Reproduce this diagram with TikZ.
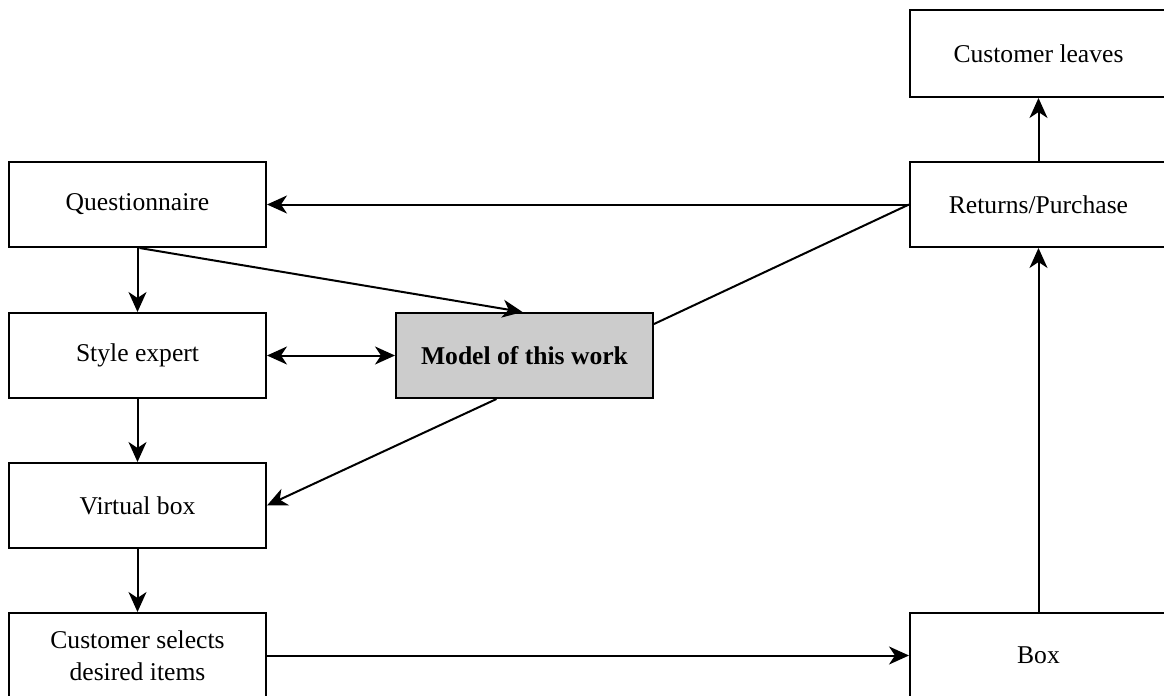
\documentclass[tikz,border=0pt]{standalone}
\usepackage{fontspec}
\setmainfont{Liberation Serif}
\usetikzlibrary{arrows.meta}
\definecolor{modelgray}{HTML}{CCCCCC}
\tikzset{
  stagebox/.style={draw, line width=1pt, minimum width=128.5pt, minimum height=42.5pt,
    align=center, inner sep=2pt, font=\fontsize{12.8}{16}\selectfont},
  tip/.tip={Stealth[length=10pt,width=9pt,inset=3pt]},
  flow/.style={line width=1pt, -tip},
  twoway/.style={line width=1pt, tip-tip}
}
\begin{document}
\begin{tikzpicture}[x=0.5pt, y=-0.5pt]
    \useasboundingbox (0, 0) rectangle (1164, 696);
    % left column
    \node[stagebox] (quest) at (137.5, 204.5) {Questionnaire};
    \node[stagebox] (style) at (137.5, 355.5) {Style expert};
    \node[stagebox] (virtual) at (137.5, 505.5) {Virtual box};
    \node[stagebox] (select) at (137.5, 655.5) {Customer selects\\desired items};
    % middle
    \node[stagebox, fill=modelgray, font=\fontsize{12.8}{16}\selectfont\bfseries] (model) at (524.5, 355.5) {Model of this work};
    % right column
    \node[stagebox, minimum height=43.5pt] (leaves) at (1038.5, 53.5) {Customer leaves};
    \node[stagebox] (ret) at (1038.5, 204.5) {Returns/Purchase};
    \node[stagebox] (box) at (1038.5, 655.5) {Box};
    % connectors
    \draw[flow] (ret.west) -- (quest.east);
    \draw[line width=1pt] (ret.west) -- ([yshift=-6pt]model.north east);
    \draw[flow] (quest.south) -- (style.north);
    \draw[flow] ([xshift=1pt]quest.south) -- ([xshift=-1pt]model.north);
    \draw[twoway] (style.east) -- (model.west);
    \draw[flow] ([xshift=-14pt]model.south) -- (virtual.east);
    \draw[flow] (style.south) -- (virtual.north);
    \draw[flow] (virtual.south) -- (select.north);
    \draw[flow] (select.east) -- (box.west);
    \draw[flow] (box.north) -- (ret.south);
    \draw[flow] (ret.north) -- (leaves.south);
\end{tikzpicture}
\end{document}
